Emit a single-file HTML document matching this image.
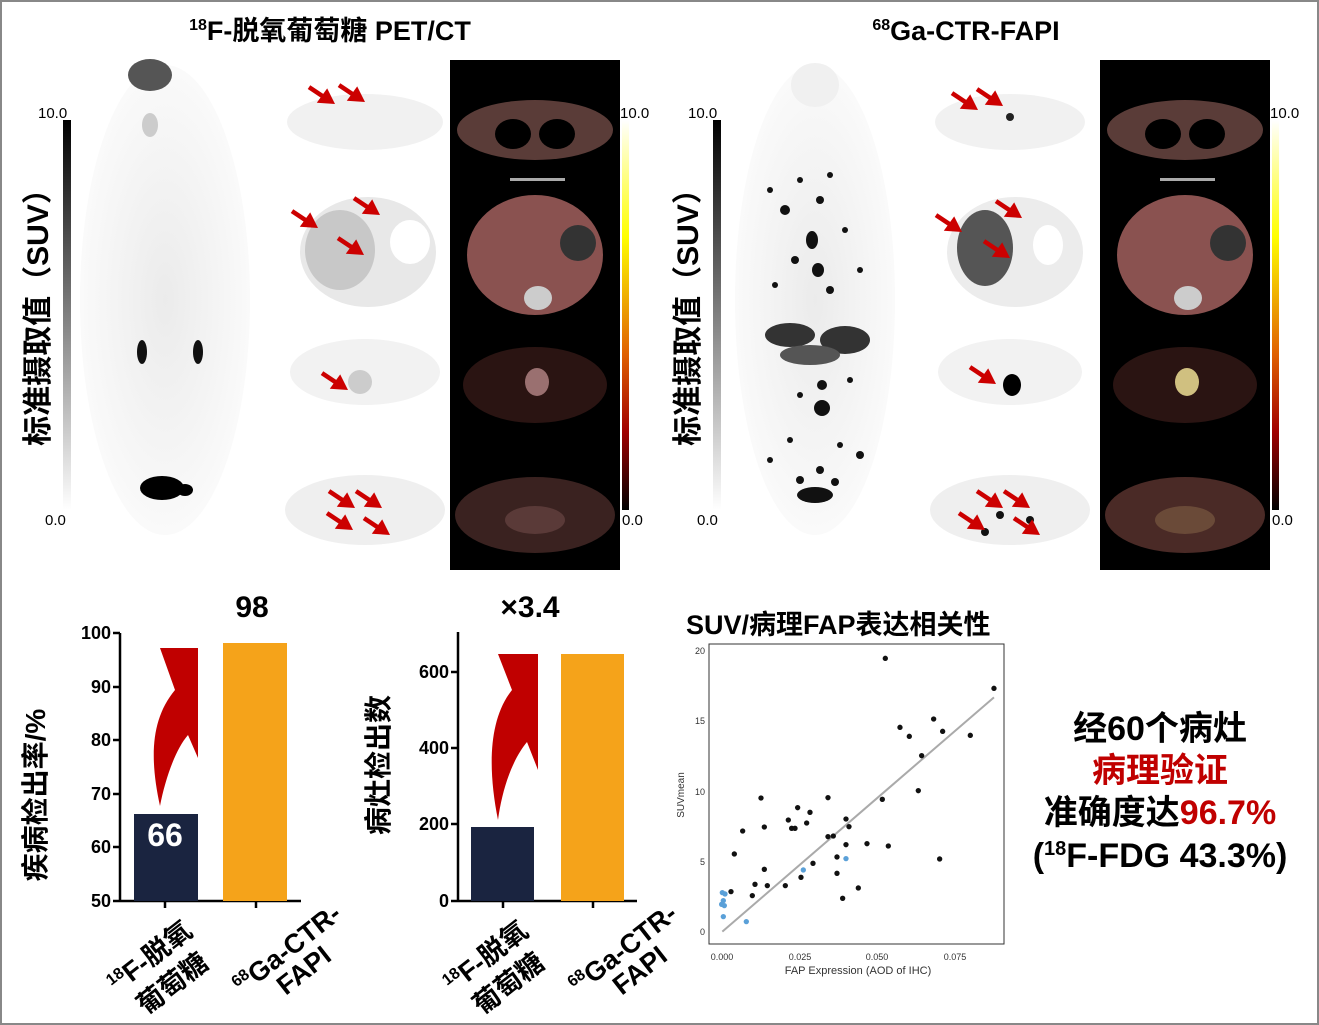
<!DOCTYPE html>
<html><head><meta charset="utf-8"><style>
body{margin:0;background:#fff}
svg{display:block}
text{font-family:"Liberation Sans","Noto Sans CJK SC",sans-serif}
</style></head><body>
<svg width="1319" height="1025" viewBox="0 0 1319 1025" xmlns="http://www.w3.org/2000/svg">
<defs>
<linearGradient id="gr" x1="0" y1="0" x2="0" y2="1"><stop offset="0" stop-color="#000"/><stop offset="1" stop-color="#fff"/></linearGradient>
<linearGradient id="hot" x1="0" y1="0" x2="0" y2="1"><stop offset="0" stop-color="#fff"/><stop offset="0.3" stop-color="#ffff00"/><stop offset="0.6" stop-color="#e06000"/><stop offset="0.8" stop-color="#a00000"/><stop offset="1" stop-color="#000"/></linearGradient>
<radialGradient id="body" cx="0.5" cy="0.5" r="0.5"><stop offset="0" stop-color="#ebebeb"/><stop offset="1" stop-color="#fafafa"/></radialGradient>
<g id="ar"><g transform="scale(1.3)"><line x1="-20" y1="-13" x2="-8" y2="-5" stroke="#c00" stroke-width="3.5"/><polygon points="0,0 -14,-1 -6,-12" fill="#c00"/></g></g>
<g id="ct1"><ellipse cx="0" cy="0" rx="78" ry="30" fill="#5a3c38"/><ellipse cx="-22" cy="4" rx="18" ry="15" fill="#000"/><ellipse cx="22" cy="4" rx="18" ry="15" fill="#000"/></g>
</defs>
<rect x="1" y="1" width="1317" height="1023" fill="#fff" stroke="#888" stroke-width="2"/>

<text x="330" y="40" font-size="27" font-weight="bold" text-anchor="middle"><tspan font-size="16" dy="-10">18</tspan><tspan dy="10">F-脱氧葡萄糖 PET/CT</tspan></text>
<text x="966" y="40" font-size="27" font-weight="bold" text-anchor="middle"><tspan font-size="16" dy="-10">68</tspan><tspan dy="10">Ga-CTR-FAPI</tspan></text>

<!-- LEFT PANEL -->
<rect x="63" y="120" width="8" height="390" fill="url(#gr)"/>
<text x="38" y="118" font-size="15">10.0</text><text x="45" y="525" font-size="15">0.0</text>
<text transform="translate(48,310) rotate(-90)" font-size="30" font-weight="bold" text-anchor="middle">标准摄取值（SUV）</text>
<ellipse cx="165" cy="300" rx="85" ry="235" fill="url(#body)"/>
<ellipse cx="150" cy="75" rx="22" ry="16" fill="#555"/>
<ellipse cx="150" cy="125" rx="8" ry="12" fill="#ccc"/>
<ellipse cx="142" cy="352" rx="5" ry="12" fill="#111"/><ellipse cx="198" cy="352" rx="5" ry="12" fill="#111"/>
<ellipse cx="162" cy="488" rx="22" ry="12" fill="#000"/><ellipse cx="185" cy="490" rx="8" ry="6" fill="#000"/>
<ellipse cx="365" cy="122" rx="78" ry="28" fill="#f1f1f1"/>
<ellipse cx="368" cy="252" rx="68" ry="55" fill="#e8e8e8"/><ellipse cx="340" cy="250" rx="35" ry="40" fill="#c8c8c8"/><ellipse cx="410" cy="242" rx="20" ry="22" fill="#fff"/>
<ellipse cx="365" cy="372" rx="75" ry="33" fill="#f2f2f2"/><ellipse cx="360" cy="382" rx="12" ry="12" fill="#ccc"/>
<ellipse cx="365" cy="510" rx="80" ry="35" fill="#efefef"/>
<rect x="450" y="60" width="170" height="510" fill="#000"/>
<use href="#ct1" x="535" y="130"/>
<rect x="510" y="178" width="55" height="3" fill="#aaa"/>
<ellipse cx="535" cy="255" rx="68" ry="60" fill="#8a5250"/><circle cx="578" cy="243" r="18" fill="#333"/><ellipse cx="538" cy="298" rx="14" ry="12" fill="#ccc"/>
<ellipse cx="535" cy="385" rx="72" ry="38" fill="#2a1412"/><ellipse cx="537" cy="382" rx="12" ry="14" fill="#9a7070"/>
<ellipse cx="535" cy="515" rx="80" ry="38" fill="#3a2220"/><ellipse cx="535" cy="520" rx="30" ry="14" fill="#5a3a38"/>
<rect x="622" y="120" width="7" height="390" fill="url(#hot)"/>
<text x="620" y="118" font-size="15">10.0</text><text x="622" y="525" font-size="15">0.0</text>
<use href="#ar" x="335" y="104"/><use href="#ar" x="365" y="102"/>
<use href="#ar" x="318" y="228"/><use href="#ar" x="380" y="215"/><use href="#ar" x="364" y="255"/>
<use href="#ar" x="348" y="390"/>
<use href="#ar" x="355" y="508"/><use href="#ar" x="382" y="508"/><use href="#ar" x="353" y="530"/><use href="#ar" x="390" y="535"/>

<!-- RIGHT PANEL -->
<rect x="713" y="120" width="8" height="390" fill="url(#gr)"/>
<text x="688" y="118" font-size="15">10.0</text><text x="697" y="525" font-size="15">0.0</text>
<text transform="translate(698,310) rotate(-90)" font-size="30" font-weight="bold" text-anchor="middle">标准摄取值（SUV）</text>
<ellipse cx="815" cy="300" rx="80" ry="235" fill="url(#body)"/>
<ellipse cx="815" cy="85" rx="24" ry="22" fill="#f0f0f0"/>
<g fill="#111">
<circle cx="785" cy="210" r="5"/><circle cx="820" cy="200" r="4"/><circle cx="800" cy="180" r="3"/><circle cx="830" cy="175" r="3"/><circle cx="770" cy="190" r="3"/>
<ellipse cx="812" cy="240" rx="6" ry="9"/><ellipse cx="818" cy="270" rx="6" ry="7"/><circle cx="795" cy="260" r="4"/><circle cx="845" cy="230" r="3"/><circle cx="860" cy="270" r="3"/><circle cx="775" cy="285" r="3"/><circle cx="830" cy="290" r="4"/>
<ellipse cx="790" cy="335" rx="25" ry="12" fill="#333"/><ellipse cx="845" cy="340" rx="25" ry="14" fill="#333"/><ellipse cx="810" cy="355" rx="30" ry="10" fill="#555"/>
<ellipse cx="822" cy="408" rx="8" ry="8"/><circle cx="822" cy="385" r="5"/><circle cx="800" cy="395" r="3"/><circle cx="850" cy="380" r="3"/>
<circle cx="790" cy="440" r="3"/><circle cx="840" cy="445" r="3"/><circle cx="860" cy="455" r="4"/><circle cx="770" cy="460" r="3"/><circle cx="820" cy="470" r="4"/>
<ellipse cx="815" cy="495" rx="18" ry="8"/><circle cx="800" cy="480" r="4"/><circle cx="835" cy="482" r="4"/>
</g>
<ellipse cx="1010" cy="122" rx="75" ry="28" fill="#f1f1f1"/><circle cx="1010" cy="117" r="4" fill="#222"/>
<ellipse cx="1015" cy="252" rx="68" ry="55" fill="#ececec"/><ellipse cx="985" cy="248" rx="28" ry="38" fill="#555"/><ellipse cx="1048" cy="245" rx="15" ry="20" fill="#fff"/>
<ellipse cx="1010" cy="372" rx="72" ry="33" fill="#f2f2f2"/><ellipse cx="1012" cy="385" rx="9" ry="11" fill="#000"/>
<ellipse cx="1010" cy="510" rx="80" ry="35" fill="#efefef"/><circle cx="1000" cy="515" r="4" fill="#111"/><circle cx="1030" cy="520" r="4" fill="#111"/><circle cx="985" cy="532" r="4" fill="#111"/>
<rect x="1100" y="60" width="170" height="510" fill="#000"/>
<use href="#ct1" x="1185" y="130"/>
<rect x="1160" y="178" width="55" height="3" fill="#aaa"/>
<ellipse cx="1185" cy="255" rx="68" ry="60" fill="#8a5250"/><circle cx="1228" cy="243" r="18" fill="#333"/><ellipse cx="1188" cy="298" rx="14" ry="12" fill="#ccc"/>
<ellipse cx="1185" cy="385" rx="72" ry="38" fill="#2a1412"/><ellipse cx="1187" cy="382" rx="12" ry="14" fill="#d0c080"/>
<ellipse cx="1185" cy="515" rx="80" ry="38" fill="#4a2a26"/><ellipse cx="1185" cy="520" rx="30" ry="14" fill="#6a4a38"/>
<rect x="1272" y="120" width="7" height="390" fill="url(#hot)"/>
<text x="1270" y="118" font-size="15">10.0</text><text x="1272" y="525" font-size="15">0.0</text>
<use href="#ar" x="978" y="110"/><use href="#ar" x="1003" y="106"/>
<use href="#ar" x="962" y="232"/><use href="#ar" x="1022" y="218"/><use href="#ar" x="1010" y="258"/>
<use href="#ar" x="996" y="384"/>
<use href="#ar" x="1003" y="508"/><use href="#ar" x="1030" y="508"/><use href="#ar" x="985" y="530"/><use href="#ar" x="1040" y="535"/>

<!-- BAR CHART 1 -->
<g font-weight="bold" font-size="18">
<line x1="120" y1="633" x2="120" y2="901" stroke="#000" stroke-width="2.5"/>
<line x1="120" y1="901" x2="301" y2="901" stroke="#000" stroke-width="2.5"/>
<g stroke="#000" stroke-width="2.5"><line x1="113" y1="633" x2="120" y2="633"/><line x1="113" y1="687" x2="120" y2="687"/><line x1="113" y1="740" x2="120" y2="740"/><line x1="113" y1="794" x2="120" y2="794"/><line x1="113" y1="847" x2="120" y2="847"/><line x1="113" y1="901" x2="120" y2="901"/><line x1="165" y1="901" x2="165" y2="908"/><line x1="256" y1="901" x2="256" y2="908"/></g>
<g text-anchor="end"><text x="111" y="639">100</text><text x="111" y="693">90</text><text x="111" y="746">80</text><text x="111" y="800">70</text><text x="111" y="853">60</text><text x="111" y="907">50</text></g>
<rect x="134" y="814" width="64" height="87" fill="#1a2440"/>
<rect x="223" y="643" width="64" height="258" fill="#f5a31a"/>
<path d="M160,806 C150,760 150,720 175,690 L160,648 L198,648 L198,758 L188,735 C175,750 165,780 160,806Z" fill="#c00000"/>
<text x="165" y="846" fill="#fff" font-size="32" text-anchor="middle">66</text>
<text x="252" y="617" font-size="30" text-anchor="middle">98</text>
<text transform="translate(45,795) rotate(-90)" font-size="28" text-anchor="middle">疾病检出率/%</text>
<g font-size="27" text-anchor="end">
<text transform="translate(194,934) rotate(-38)"><tspan font-size="16" dy="-10">18</tspan><tspan dy="10">F-脱氧</tspan></text>
<text transform="translate(210,966) rotate(-38)">葡萄糖</text>
<text transform="translate(343,917) rotate(-38)"><tspan font-size="16" dy="-10">68</tspan><tspan dy="10">Ga-CTR-</tspan></text>
<text transform="translate(333,959) rotate(-38)">FAPI</text>
</g>

<!-- BAR CHART 2 -->
<line x1="458" y1="632" x2="458" y2="901" stroke="#000" stroke-width="2.5"/>
<line x1="458" y1="901" x2="637" y2="901" stroke="#000" stroke-width="2.5"/>
<g stroke="#000" stroke-width="2.5"><line x1="451" y1="672" x2="458" y2="672"/><line x1="451" y1="748" x2="458" y2="748"/><line x1="451" y1="824" x2="458" y2="824"/><line x1="451" y1="901" x2="458" y2="901"/><line x1="503" y1="901" x2="503" y2="908"/><line x1="593" y1="901" x2="593" y2="908"/></g>
<g text-anchor="end"><text x="449" y="678">600</text><text x="449" y="754">400</text><text x="449" y="830">200</text><text x="449" y="907">0</text></g>
<rect x="471" y="827" width="63" height="74" fill="#1a2440"/>
<rect x="561" y="654" width="63" height="247" fill="#f5a31a"/>
<path d="M498,820 C488,770 488,720 512,690 L498,654 L538,654 L538,770 L527,742 C512,760 502,790 498,820Z" fill="#c00000"/>
<text x="530" y="617" font-size="30" text-anchor="middle">×3.4</text>
<text transform="translate(388,765) rotate(-90)" font-size="28" text-anchor="middle">病灶检出数</text>
<g font-size="27" text-anchor="end">
<text transform="translate(530,934) rotate(-38)"><tspan font-size="16" dy="-10">18</tspan><tspan dy="10">F-脱氧</tspan></text>
<text transform="translate(546,966) rotate(-38)">葡萄糖</text>
<text transform="translate(679,917) rotate(-38)"><tspan font-size="16" dy="-10">68</tspan><tspan dy="10">Ga-CTR-</tspan></text>
<text transform="translate(669,959) rotate(-38)">FAPI</text>
</g>
</g>

<!-- SCATTER -->
<text x="686" y="634" font-size="27" font-weight="bold">SUV/病理FAP表达相关性</text>
<rect x="709" y="644" width="295" height="300" fill="#fff" stroke="#333" stroke-width="1"/>
<g font-size="9" fill="#333">
<g text-anchor="end"><text x="705" y="654">20</text><text x="705" y="724">15</text><text x="705" y="795">10</text><text x="705" y="865">5</text><text x="705" y="935">0</text></g>
<g text-anchor="middle"><text x="722" y="960">0.000</text><text x="800" y="960">0.025</text><text x="877" y="960">0.050</text><text x="955" y="960">0.075</text></g>
<text x="858" y="974" font-size="11" text-anchor="middle">FAP Expression (AOD of IHC)</text>
<text transform="translate(684,795) rotate(-90)" font-size="10" text-anchor="middle">SUVmean</text>
</g>
<g transform="translate(670,640) scale(0.3333)">
<line x1="157" y1="875" x2="972" y2="172" stroke="#aaa" stroke-width="6"/>
<g fill="#111">
<circle cx="183" cy="755" r="8"/><circle cx="193" cy="642" r="8"/><circle cx="218" cy="573" r="8"/><circle cx="247" cy="767" r="8"/><circle cx="255" cy="733" r="8"/><circle cx="273" cy="474" r="8"/><circle cx="283" cy="688" r="8"/><circle cx="283" cy="561" r="8"/><circle cx="292" cy="737" r="8"/><circle cx="346" cy="737" r="8"/><circle cx="355" cy="540" r="8"/><circle cx="365" cy="565" r="8"/><circle cx="375" cy="565" r="8"/><circle cx="383" cy="503" r="8"/><circle cx="393" cy="712" r="8"/><circle cx="410" cy="549" r="8"/><circle cx="420" cy="517" r="8"/><circle cx="429" cy="670" r="8"/><circle cx="474" cy="590" r="8"/><circle cx="474" cy="473" r="8"/><circle cx="490" cy="588" r="8"/><circle cx="501" cy="651" r="8"/><circle cx="501" cy="700" r="8"/><circle cx="518" cy="775" r="8"/><circle cx="528" cy="537" r="8"/><circle cx="528" cy="614" r="8"/><circle cx="537" cy="560" r="8"/><circle cx="565" cy="744" r="8"/><circle cx="591" cy="611" r="8"/><circle cx="637" cy="478" r="8"/><circle cx="646" cy="55" r="8"/><circle cx="655" cy="618" r="8"/><circle cx="690" cy="262" r="8"/><circle cx="718" cy="289" r="8"/><circle cx="745" cy="452" r="8"/><circle cx="755" cy="347" r="8"/><circle cx="791" cy="237" r="8"/><circle cx="809" cy="657" r="8"/><circle cx="818" cy="274" r="8"/><circle cx="901" cy="286" r="8"/><circle cx="972" cy="145" r="8"/>
</g>
<g fill="#5aa0d8">
<circle cx="157" cy="758" r="8"/><circle cx="165" cy="762" r="8"/><circle cx="160" cy="782" r="8"/><circle cx="155" cy="793" r="8"/><circle cx="163" cy="797" r="8"/><circle cx="160" cy="830" r="8"/><circle cx="229" cy="845" r="8"/><circle cx="400" cy="690" r="8"/><circle cx="528" cy="656" r="8"/>
</g>
</g>

<!-- RIGHT TEXT -->
<g font-size="34" font-weight="bold" text-anchor="middle">
<text x="1160" y="740">经60个病灶</text>
<text x="1160" y="782" fill="#c00000">病理验证</text>
<text x="1160" y="824">准确度达<tspan fill="#c00000">96.7%</tspan></text>
<text x="1160" y="867">(<tspan font-size="20" dy="-12">18</tspan><tspan dy="12">F-FDG 43.3%)</tspan></text>
</g>
</svg>
</body></html>
